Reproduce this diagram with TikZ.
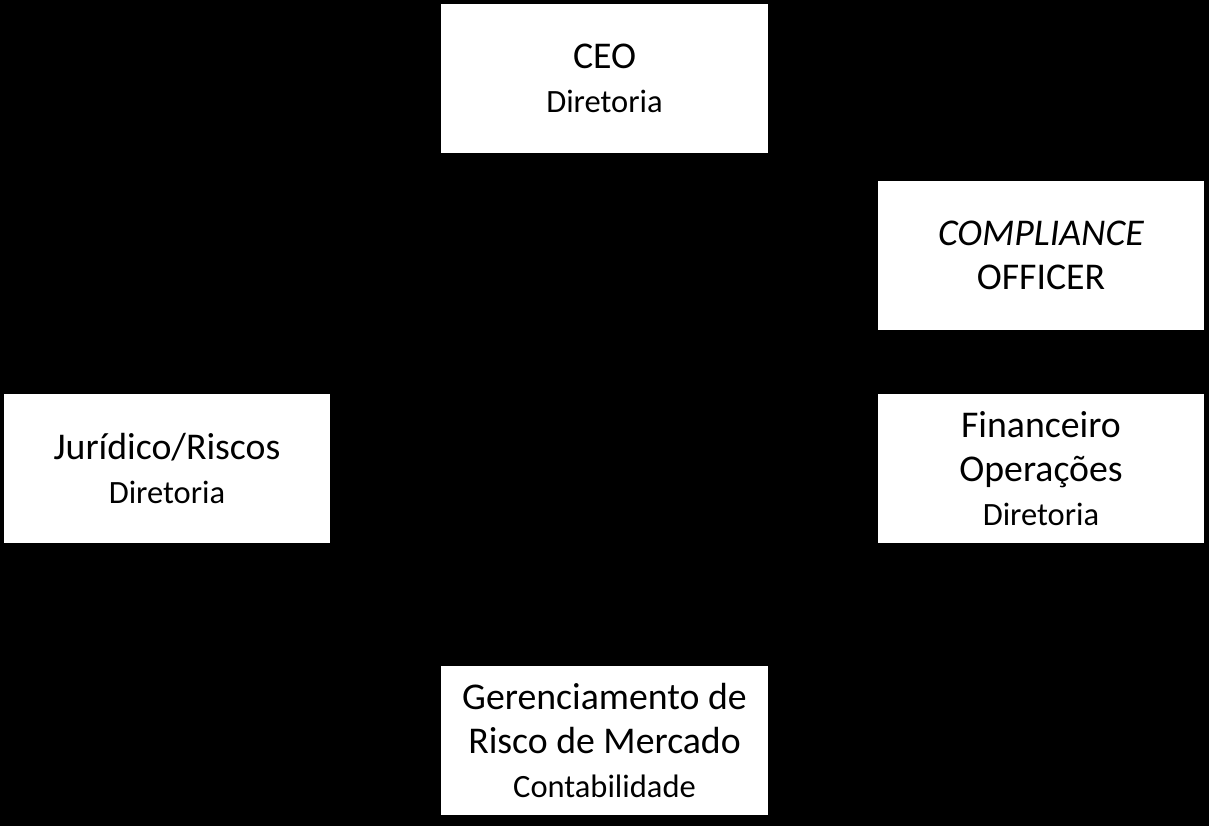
\documentclass[tikz,border=0pt]{standalone}
\usepackage{fontspec}
\setmainfont{Carlito}
\usepackage{tikz}
\usetikzlibrary{positioning}
\newcommand{\bigline}{\fontsize{21.5}{25}\selectfont}
\newcommand{\smallline}{\fontsize{18.5}{20.5}\selectfont}
\tikzset{
  orgbox/.style={fill=white,draw=none,minimum width=6.54cm,minimum height=2.98cm,
    align=center,inner sep=0pt,font=\bigline}
}

\begin{document}
\begin{tikzpicture}[x=0.02cm,y=-0.02cm]
    % Black page behind the boxes.
    \fill[black] (0,0) rectangle (1209,826);
    \useasboundingbox (0,0) rectangle (1209,826);

    % Top and bottom column.
    \node[orgbox] (ceo) at (604.5,78.5) {CEO\\{\smallline Diretoria}};
    \node[orgbox] (mercado) at (604.5,740.5)
      {Gerenciamento de\\Risco de Mercado\\{\smallline Contabilidade}};

    % Left side.
    \node[orgbox] (juridico) at (167,468.5) {Jurídico/Riscos\\{\smallline Diretoria}};

    % Right side.
    \node[orgbox] (compliance) at (1041,255.5) {\textit{COMPLIANCE}\\OFFICER};
    \node[orgbox] (financeiro) at (1041,468.5)
      {Financeiro\\Operações\\{\smallline Diretoria}};
\end{tikzpicture}
\end{document}
